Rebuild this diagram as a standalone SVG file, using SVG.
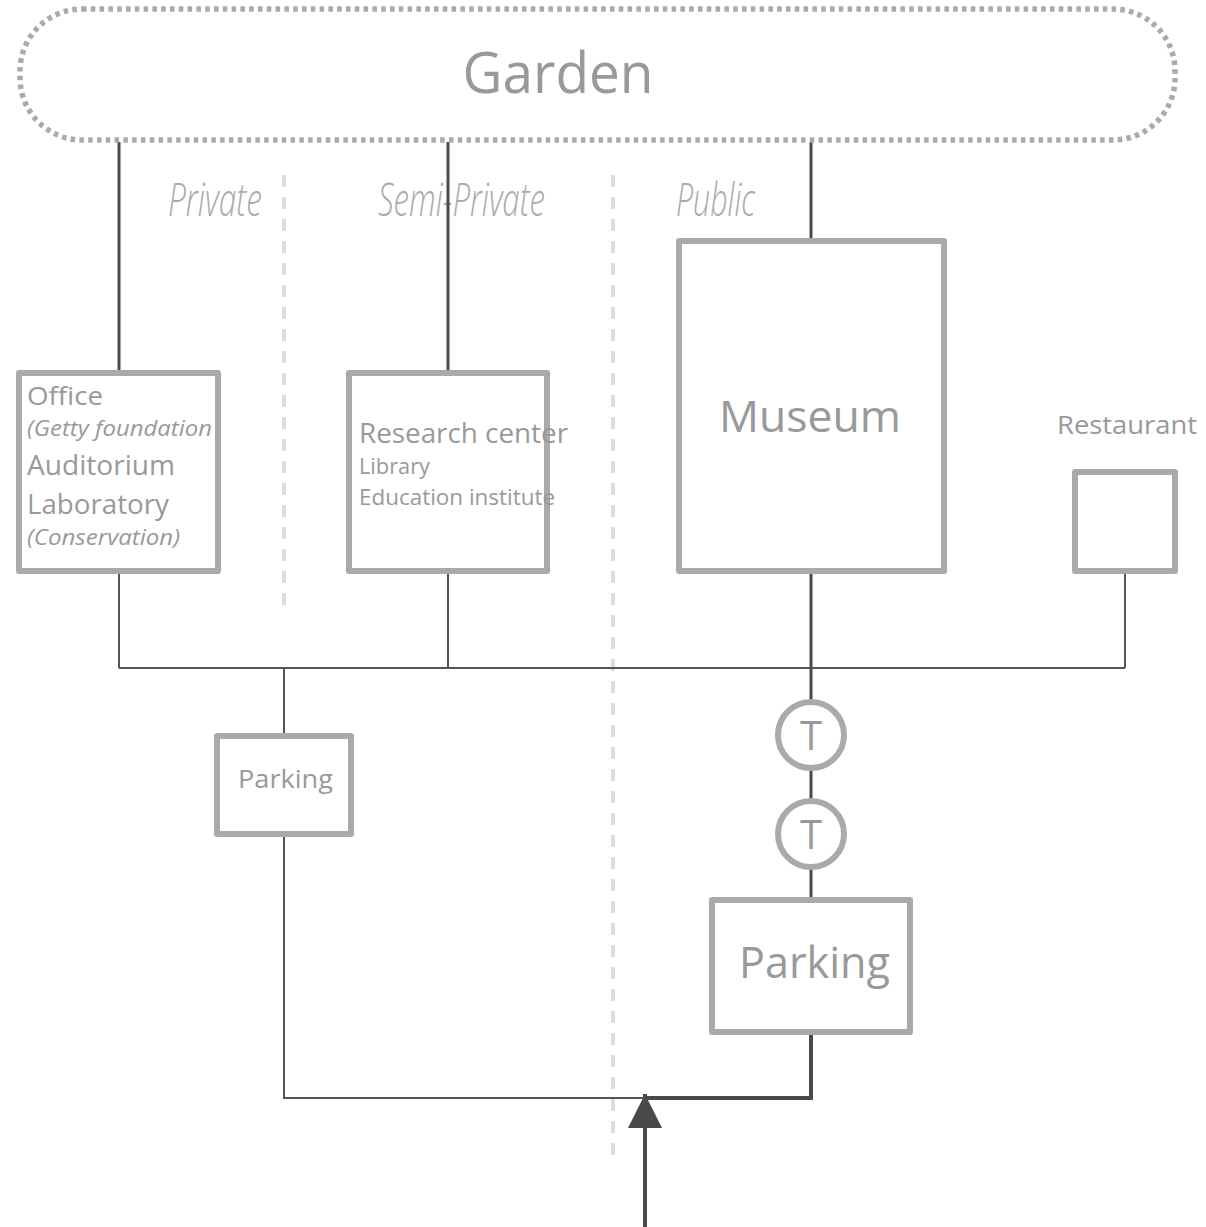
<svg xmlns="http://www.w3.org/2000/svg" width="1206" height="1227" viewBox="0 0 1206 1227">
<style>
.box{fill:#fff;stroke:#aaa;stroke-width:6;stroke-linejoin:round}
.t{font-family:"Open Sans","Liberation Sans",sans-serif;fill:#999}
.ti{font-family:"Open Sans","Liberation Sans",sans-serif;fill:#999;font-style:italic}
.zone{font-family:"Open Sans","Liberation Sans",sans-serif;fill:#aaa;font-style:italic;font-weight:300}
.div{stroke:#ddd;stroke-width:4;stroke-dasharray:12 10;fill:none}
.dk{stroke:#4a4a4a;stroke-width:3;fill:none}
.th{stroke:#555;stroke-width:2;fill:none}
.bold{stroke:#4a4a4a;stroke-width:4;fill:none}
</style>
<defs>
<marker id="arr" viewBox="0 0 10 10" refX="10" refY="5" markerWidth="8.5" markerHeight="8.5" markerUnits="strokeWidth" orient="auto">
<path d="M0,0 L10,5 L0,10 z" fill="#4a4a4a"/>
</marker>
</defs>
<rect width="1206" height="1227" fill="#fff"/>
<g id="dividers">
<line class="div" x1="284" y1="175" x2="284" y2="605"/>
<line class="div" x1="613" y1="175" x2="613" y2="1165"/>
</g>
<g id="zones">
<text class="zone" x="168" y="216" font-size="46" textLength="94" lengthAdjust="spacingAndGlyphs">Private</text>
<text class="zone" x="378" y="216" font-size="46" textLength="167" lengthAdjust="spacingAndGlyphs">Semi-Private</text>
<text class="zone" x="676" y="216" font-size="46" textLength="79" lengthAdjust="spacingAndGlyphs">Public</text>
</g>
<g id="connectors">
<line class="dk" x1="119" y1="142" x2="119" y2="372"/>
<line class="dk" x1="448" y1="142" x2="448" y2="372"/>
<line class="dk" x1="811" y1="142" x2="811" y2="240"/>
<line class="th" x1="119" y1="572" x2="119" y2="668"/>
<line class="th" x1="448" y1="572" x2="448" y2="668"/>
<line class="th" x1="1125" y1="572" x2="1125" y2="668"/>
<line class="th" x1="119" y1="668" x2="1125" y2="668"/>
<line class="dk" x1="811" y1="572" x2="811" y2="899"/>
<line class="th" x1="284" y1="668" x2="284" y2="735"/>
<polyline class="th" points="284,835 284,1098 645,1098"/>
<polyline class="bold" points="645,1098 811,1098 811,1033"/>
<line class="bold" x1="645" y1="1227" x2="645" y2="1094" marker-end="url(#arr)"/>
</g>
<g id="garden">
<rect x="20" y="9" width="1155" height="131" rx="62" ry="62" fill="none" stroke="#aaa" stroke-width="5.5" stroke-dasharray="4.5 4.3"/>
<text class="t" x="558" y="93" font-size="57" text-anchor="middle" textLength="191" lengthAdjust="spacingAndGlyphs">Garden</text>
</g>
<g id="office">
<rect class="box" x="19" y="373" width="199" height="198"/>
<text class="t" x="27" y="405" font-size="26" textLength="76" lengthAdjust="spacingAndGlyphs">Office</text>
<text class="ti" x="27" y="436" font-size="21" textLength="185" lengthAdjust="spacingAndGlyphs">(Getty foundation</text>
<text class="t" x="27" y="475" font-size="27" textLength="148" lengthAdjust="spacingAndGlyphs">Auditorium</text>
<text class="t" x="27" y="514" font-size="27" textLength="142" lengthAdjust="spacingAndGlyphs">Laboratory</text>
<text class="ti" x="27" y="545" font-size="21" textLength="153" lengthAdjust="spacingAndGlyphs">(Conservation)</text>
</g>
<g id="research">
<rect class="box" x="349" y="373" width="198" height="198"/>
<text class="t" x="359" y="443" font-size="27" textLength="209" lengthAdjust="spacingAndGlyphs">Research center</text>
<text class="t" x="359" y="474" font-size="21" textLength="71" lengthAdjust="spacingAndGlyphs">Library</text>
<text class="t" x="359" y="505" font-size="21" textLength="196" lengthAdjust="spacingAndGlyphs">Education institute</text>
</g>
<g id="museum">
<rect class="box" x="679" y="241" width="265" height="330"/>
<text class="t" x="719" y="432" font-size="44" textLength="182" lengthAdjust="spacingAndGlyphs">Museum</text>
</g>
<g id="restaurant">
<text class="t" x="1057" y="434" font-size="26" textLength="140" lengthAdjust="spacingAndGlyphs">Restaurant</text>
<rect class="box" x="1075" y="472" width="100" height="99"/>
</g>
<g id="parking-small">
<rect class="box" x="217" y="736" width="134" height="98"/>
<text class="t" x="238" y="788" font-size="25" textLength="95" lengthAdjust="spacingAndGlyphs">Parking</text>
</g>
<g id="t1">
<circle cx="811" cy="735" r="33" fill="#fff" stroke="#aaa" stroke-width="6"/>
<text class="t" x="811" y="750" font-size="40" text-anchor="middle">T</text>
</g>
<g id="t2">
<circle cx="811" cy="834" r="33" fill="#fff" stroke="#aaa" stroke-width="6"/>
<text class="t" x="811" y="849" font-size="40" text-anchor="middle">T</text>
</g>
<g id="parking-large">
<rect class="box" x="712" y="900" width="198" height="132"/>
<text class="t" x="739" y="978" font-size="43" textLength="151" lengthAdjust="spacingAndGlyphs">Parking</text>
</g>
</svg>
